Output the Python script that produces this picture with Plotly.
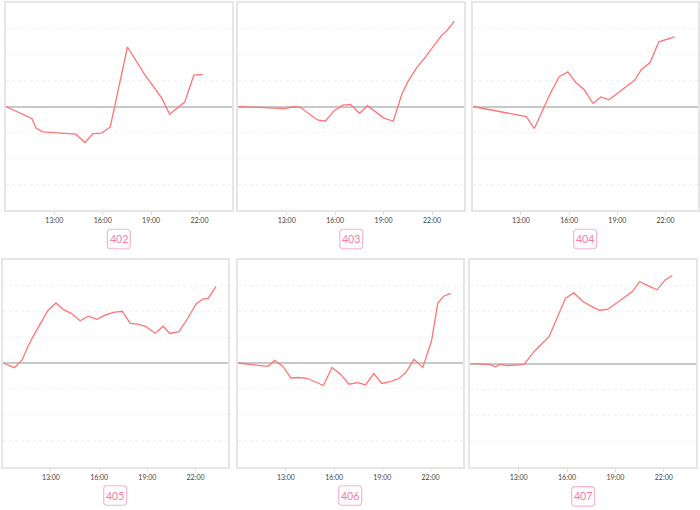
import plotly.graph_objects as go

# ---------------- data ----------------
rooms = ["402", "403", "404", "405", "406", "407"]

t402 = ["10:00", "11:36", "11:52", "12:16", "14:20", "14:54", "15:24", "15:56", "16:28",
        "17:32", "18:35", "19:38", "20:09", "21:05", "21:39", "22:12"]
v402 = [0, -0.46, -0.83, -0.98, -1.07, -1.39, -1.05, -1.03, -0.79,
        2.30, 1.25, 0.35, -0.30, 0.17, 1.21, 1.24]

t403 = ["10:00", "11:27", "12:52", "13:21", "13:50", "14:54", "15:23", "15:55", "16:28",
        "16:57", "17:31", "18:00", "19:00", "19:36", "20:08", "20:31", "21:02", "21:35",
        "22:06", "22:35", "22:55", "23:23"]
v403 = [0, -0.04, -0.08, -0.01, -0.03, -0.52, -0.57, -0.18, 0.05,
        0.08, -0.26, 0.03, -0.44, -0.57, 0.48, 0.97, 1.48, 1.91,
        2.35, 2.74, 2.93, 3.30]

t404 = ["10:00", "13:20", "13:50", "14:20", "14:52", "15:23", "15:55", "16:25", "16:55",
        "17:29", "17:59", "18:29", "19:03", "19:35", "20:05", "20:30", "21:02", "21:35",
        "22:05", "22:34"]
v404 = [0, -0.39, -0.85, -0.15, 0.55, 1.15, 1.34, 0.93, 0.67,
        0.12, 0.37, 0.26, 0.53, 0.80, 1.02, 1.43, 1.70, 2.50,
        2.59, 2.69]

t405 = ["10:00", "10:44", "11:13", "11:34", "11:52", "12:18", "12:49", "13:19", "13:47",
        "14:16", "14:49", "15:20", "15:52", "16:22", "16:54", "17:26", "17:56", "18:23",
        "18:55", "19:29", "19:59", "20:24", "20:58", "21:31", "22:02", "22:27", "22:47",
        "23:16"]
v405 = [0, -0.18, 0.13, 0.64, 1.00, 1.49, 2.03, 2.32, 2.06,
        1.92, 1.63, 1.81, 1.69, 1.85, 1.96, 2.00, 1.53, 1.50,
        1.41, 1.15, 1.42, 1.14, 1.21, 1.73, 2.28, 2.47, 2.50,
        2.95]

t406 = ["10:00", "11:53", "12:18", "12:49", "13:19", "13:47", "14:19", "14:49", "15:20",
        "15:52", "16:25", "16:55", "17:29", "17:57", "18:28", "18:58", "19:29", "20:02",
        "20:27", "20:58", "21:31", "22:04", "22:27", "22:49", "23:16"]
v406 = [0, -0.13, 0.10, -0.13, -0.58, -0.56, -0.59, -0.73, -0.87,
        -0.17, -0.44, -0.82, -0.76, -0.85, -0.41, -0.79, -0.72, -0.60,
        -0.38, 0.14, -0.17, 0.87, 2.32, 2.58, 2.69]

t407 = ["10:00", "11:11", "11:34", "11:50", "12:18", "13:20", "13:58", "14:26", "14:53",
        "15:24", "15:55", "16:25", "16:59", "17:31", "18:01", "18:31", "19:02", "19:34",
        "20:04", "20:30", "21:03", "21:35", "22:06", "22:32"]
v407 = [0, -0.03, -0.12, -0.03, -0.08, -0.03, 0.47, 0.76, 1.04,
        1.79, 2.53, 2.73, 2.40, 2.21, 2.06, 2.09, 2.31, 2.56,
        2.79, 3.17, 3.00, 2.85, 3.24, 3.40]

tick_labels = ["13:00", "16:00", "19:00", "22:00"]

series = [(t402, v402), (t403, v403), (t404, v404), (t405, v405), (t406, v406), (t407, v407)]

# ---------------- layout ----------------
W, H = 700, 510
DAY = "2024-01-01 "
# panel boxes in pixels (left, right, top, bottom)
boxes = [
    (6, 231.7, 3, 210), (238.3, 464.3, 3, 210), (472.7, 697.7, 3, 210),
    (2.7, 227.7, 259.5, 466.5), (237.7, 462.7, 259.5, 466.5), (470.3, 696, 260, 467.3),
]

LINE = "#ff7474"
fig = go.Figure()
shapes = []
annotations = []


def rounded_rect(cx, cy, w, h, r):
    x0, x1 = (cx - w / 2) / W, (cx + w / 2) / W
    y0, y1 = 1 - (cy + h / 2) / H, 1 - (cy - h / 2) / H
    rx, ry = r / W, r / H
    return (f"M {x0 + rx},{y0} L {x1 - rx},{y0} Q {x1},{y0} {x1},{y0 + ry} "
            f"L {x1},{y1 - ry} Q {x1},{y1} {x1 - rx},{y1} L {x0 + rx},{y1} "
            f"Q {x0},{y1} {x0},{y1 - ry} L {x0},{y0 + ry} Q {x0},{y0} {x0 + rx},{y0} Z")


for i, ((tt, vv), name, (l, r, t, b)) in enumerate(zip(series, rooms, boxes)):
    n = "" if i == 0 else str(i + 1)
    fig.add_trace(go.Scatter(
        x=[DAY + s for s in tt], y=vv, mode="lines", name=name,
        line=dict(color=LINE, width=1.3), xaxis="x" + n, yaxis="y" + n,
        showlegend=False, hoverinfo="x+y",
    ))
    fig.layout["xaxis" + n] = dict(
        domain=[l / W, r / W], anchor="y" + n, type="date",
        range=[DAY + "10:00", "2024-01-02 00:00"],
        tickvals=[DAY + s for s in tick_labels], ticktext=tick_labels,
        showgrid=False, zeroline=False,
        showline=True, mirror=True, linecolor="#e6e6e6", linewidth=1.5,
        ticks="outside", ticklen=3, tickcolor="#dddddd",
        tickfont=dict(size=7, color="#444444", family="Lato"),
    )
    fig.layout["yaxis" + n] = dict(
        domain=[1 - b / H, 1 - t / H], anchor="x" + n,
        range=[-4, 4], dtick=1, showticklabels=False,
        showgrid=True, gridcolor="#f3f3f3", griddash="dot", gridwidth=1,
        zeroline=True, zerolinecolor="#c8c8c8", zerolinewidth=1.5,
        showline=True, mirror=True, linecolor="#e6e6e6", linewidth=1.5,
        ticks="",
    )
    cx = (l + r) / 2
    cy = b + 29
    shapes.append(dict(type="path", xref="paper", yref="paper",
                       path=rounded_rect(cx, cy, 23, 19.5, 3.5),
                       line=dict(color="#f9b3cd", width=1.2), fillcolor="white"))
    annotations.append(dict(text=name, xref="paper", yref="paper",
                            x=cx / W, y=1 - cy / H, showarrow=False,
                            xanchor="center", yanchor="middle",
                            font=dict(size=10.5, color="#f27aa5", family="Lato")))

fig.update_layout(
    width=W, height=H, autosize=False,
    margin=dict(l=0, r=0, t=0, b=0),
    paper_bgcolor="white", plot_bgcolor="white",
    shapes=shapes, annotations=annotations,
)

fig.write_html("out.html", config={"displayModeBar": False},
               post_script="document.body.style.margin='0';document.body.style.overflow='hidden';")
